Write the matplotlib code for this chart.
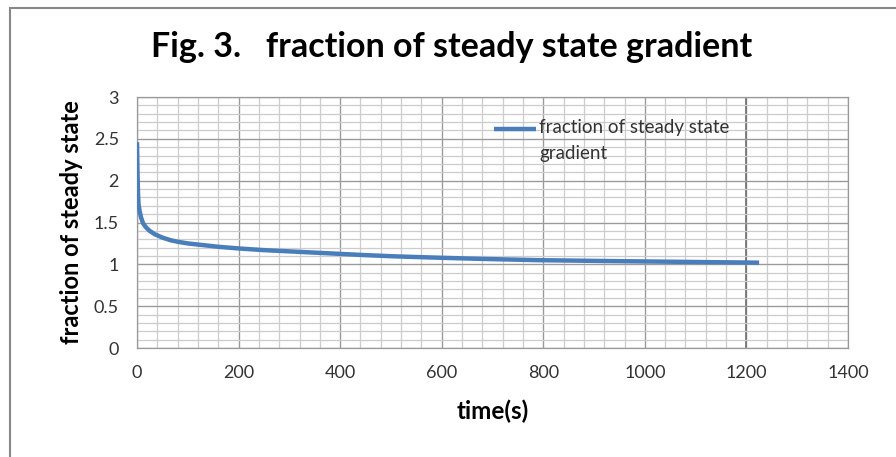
import matplotlib.pyplot as plt
import matplotlib.patches as patches
from matplotlib.lines import Line2D
import numpy as np

# data
time_s = [0, 1, 2, 3, 5, 8, 12, 18, 25, 35, 50, 65, 80, 100, 130, 160, 200,
          250, 300, 350, 400, 450, 510, 590, 680, 790, 920, 1070, 1225]
fraction = [2.46, 2.10, 1.85, 1.72, 1.64, 1.56, 1.49, 1.44, 1.40, 1.36, 1.32,
            1.29, 1.27, 1.25, 1.23, 1.21, 1.19, 1.17, 1.155, 1.14, 1.125,
            1.11, 1.095, 1.08, 1.065, 1.05, 1.04, 1.03, 1.02]

title = "Fig. 3.   fraction of steady state gradient"
series_name = "fraction of steady state\ngradient"
line_col = '#4a7ebb'

plt.rcParams['font.family'] = ['Lato', 'DejaVu Sans']

fig = plt.figure(figsize=(8.96, 4.57), dpi=100)
ax = fig.add_axes([0.1529, 0.2385, 0.7935, 0.5492])

# grid like the excel chart
for x in np.arange(0, 1401, 40):
    ax.axvline(x, color='#cccccc', lw=0.9, zorder=0)
for x in np.arange(0, 1401, 200):
    ax.axvline(x, color='#9a9a9a', lw=0.9, zorder=0)
ax.axvline(1200, color='#707070', lw=1.2, zorder=0)
for y in np.arange(0, 3.01, 0.1):
    ax.axhline(y, color='#cccccc', lw=0.9, zorder=0)
for y in np.arange(0, 3.01, 0.5):
    ax.axhline(y, color='#9a9a9a', lw=0.9, zorder=0)

ax.plot(time_s, fraction, color=line_col, lw=3.2, solid_capstyle='butt', zorder=3)

ax.set_xlim(0, 1400)
ax.set_ylim(0, 3)
ax.set_xticks(np.arange(0, 1401, 200))
ax.set_yticks([0, 0.5, 1, 1.5, 2, 2.5, 3])
ax.set_yticklabels(['0', '0.5', '1', '1.5', '2', '2.5', '3'])
ax.tick_params(length=0, labelsize=13, labelcolor='#333333')
ax.tick_params(axis='x', pad=12)
ax.tick_params(axis='y', pad=13)
for s in ax.spines.values():
    s.set_color('#9a9a9a')
    s.set_linewidth(0.9)

ax.set_xlabel('time(s)', fontsize=17.5, fontweight='bold')
ax.xaxis.set_label_coords(0.5, -0.205)
ax.set_ylabel('fraction of steady state', fontsize=17, fontweight='bold')
ax.yaxis.set_label_coords(-0.076, 0.5)

# legend drawn by hand so the handle sits on the first text line
ax.add_line(Line2D([0.502, 0.561], [0.874, 0.874], transform=ax.transAxes,
                   color=line_col, lw=3.2, solid_capstyle='butt', clip_on=False))
ax.text(0.566, 0.912, series_name, transform=ax.transAxes, fontsize=13.5,
        color='#333333', va='top', ha='left', linespacing=1.65)

fig.text(0.5045, 0.897, title, ha='center', va='center', fontsize=24.5,
         fontweight='bold')

fig.patches.append(patches.Rectangle((10 / 896, -0.1), 1.2, 1.1 - 8 / 457,
                                     transform=fig.transFigure, fill=False,
                                     edgecolor='#888888', lw=1.5))

fig.savefig('out.png', dpi=100)
